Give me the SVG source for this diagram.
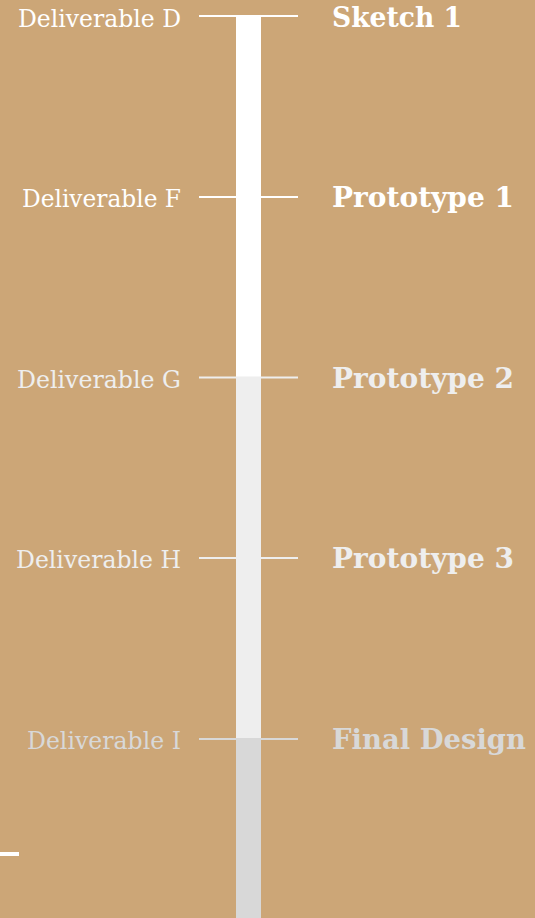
<svg xmlns="http://www.w3.org/2000/svg" width="535" height="918" viewBox="0 0 535 918">
<style>
.lbl{font-family:"DejaVu Serif","Liberation Serif",serif;font-size:23.5px;text-anchor:end}
.ttl{font-family:"DejaVu Serif","Liberation Serif",serif;font-size:27.5px;font-weight:bold}
.tick{stroke-width:2}
.c1{fill:#FFFFFF}.c2{fill:#EEEEEE}.c3{fill:#D8D8D8}
.s1{stroke:#FFFFFF}.s2{stroke:#EEEEEE}.s3{stroke:#D8D8D8}
</style>
<rect width="535" height="918" fill="#CCA677"/>
<g id="bar">
<rect x="236" y="16" width="25" height="361" fill="#FFFFFF"/>
<rect x="236" y="377" width="25" height="361" fill="#EEEEEE"/>
<rect x="236" y="738" width="25" height="180" fill="#D8D8D8"/>
</g>
<g id="connectors">
<line class="tick s1" x1="199" y1="16" x2="298" y2="16"/>
<line class="tick s1" x1="199" y1="197" x2="298" y2="197"/>
<line class="tick s2" x1="199" y1="377.5" x2="298" y2="377.5"/>
<line class="tick s2" x1="199" y1="558" x2="298" y2="558"/>
<line class="tick s3" x1="199" y1="739" x2="298" y2="739"/>
</g>
<g id="m1"><text class="lbl c1" x="181" y="26.5" textLength="163" lengthAdjust="spacingAndGlyphs">Deliverable D</text><text class="ttl c1" x="332" y="26.5" textLength="130" lengthAdjust="spacingAndGlyphs">Sketch 1</text></g>
<g id="m2"><text class="lbl c1" x="181" y="207" textLength="159" lengthAdjust="spacingAndGlyphs">Deliverable F</text><text class="ttl c1" x="332" y="207" textLength="182" lengthAdjust="spacingAndGlyphs">Prototype 1</text></g>
<g id="m3"><text class="lbl c2" x="181" y="387.5" textLength="164" lengthAdjust="spacingAndGlyphs">Deliverable G</text><text class="ttl c2" x="332" y="387.5" textLength="182" lengthAdjust="spacingAndGlyphs">Prototype 2</text></g>
<g id="m4"><text class="lbl c2" x="181" y="568" textLength="165" lengthAdjust="spacingAndGlyphs">Deliverable H</text><text class="ttl c2" x="332" y="568" textLength="182" lengthAdjust="spacingAndGlyphs">Prototype 3</text></g>
<g id="m5"><text class="lbl c3" x="181" y="749" textLength="154" lengthAdjust="spacingAndGlyphs">Deliverable I</text><text class="ttl c3" x="332" y="749" textLength="194" lengthAdjust="spacingAndGlyphs">Final Design</text></g>
<rect x="0" y="852" width="19" height="4" fill="#FFFFFF"/>
</svg>
